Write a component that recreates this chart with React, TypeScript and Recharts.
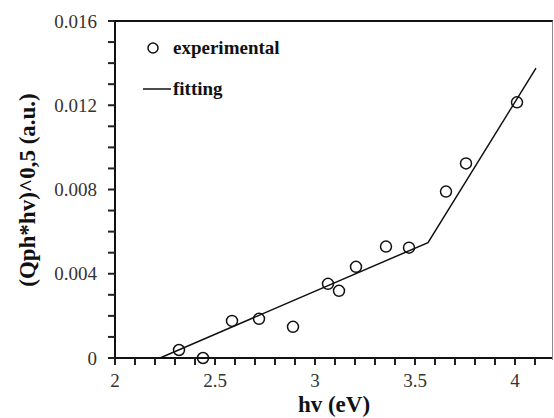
import {
  ComposedChart,
  Scatter,
  Line,
  XAxis,
  YAxis,
  Legend,
} from 'recharts';

const expX = [2.32, 2.44, 2.585, 2.72, 2.89, 3.065, 3.12, 3.205, 3.355, 3.47, 3.655, 3.755, 4.01];
const expY = [0.00038, 0.0, 0.00176, 0.00186, 0.00148, 0.00352, 0.00319, 0.00433, 0.00529, 0.00524, 0.0079, 0.00924, 0.01214];

const fitX = [2.225, 3.565, 4.105];
const fitY = [0.0, 0.00548, 0.01376];

const xTicks = [2.0, 2.1, 2.2, 2.3, 2.4, 2.5, 2.6, 2.7, 2.8, 2.9, 3.0, 3.1, 3.2, 3.3, 3.4, 3.5, 3.6, 3.7, 3.8, 3.9, 4.0, 4.1];
const xMajor = [2.0, 2.5, 3.0, 3.5, 4.0];
const yTicks = [0, 0.001, 0.002, 0.003, 0.004, 0.005, 0.006, 0.007, 0.008, 0.009, 0.01, 0.011, 0.012, 0.013, 0.014, 0.015, 0.016];
const yMajor = [0, 0.004, 0.008, 0.012, 0.016];

const experimental = expX.map((x, i) => ({ x, y: expY[i] }));
const fitting = fitX.map((x, i) => ({ x, y: fitY[i] }));

const FONT = 'Liberation Serif';
const INK = '#111';
// recharts defaults: tick props arrive 6 + 2 px away from the axis line
const OFFSET = 8;
const TICK_LEN = 7;

const XTick = (props: any) => {
  const { x, y, payload } = props;
  const axisY = y - OFFSET;
  return (
    <g>
      <rect x={x - 1} y={axisY} width={2} height={TICK_LEN} fill="#222" />
      {xMajor.includes(payload.value) && (
        <text x={x} y={axisY + 16} dy="0.71em" textAnchor="middle" style={{ fontFamily: FONT }} fontSize={19} fill="#333">
          {String(payload.value)}
        </text>
      )}
    </g>
  );
};

const YTick = (props: any) => {
  const { x, y, payload } = props;
  const axisX = x + OFFSET;
  const v = payload.value === 0 ? '0' : payload.value.toFixed(3);
  return (
    <g>
      <rect x={axisX - TICK_LEN} y={y - 1} width={TICK_LEN} height={2} fill="#222" />
      {yMajor.includes(payload.value) && (
        <text x={axisX - 18} y={y} dy="0.35em" textAnchor="end" style={{ fontFamily: FONT }} fontSize={19} fill="#333">
          {v}
        </text>
      )}
    </g>
  );
};

const OpenCircle = (props: any) => (
  <circle cx={props.cx} cy={props.cy} r={5.5} fill="none" stroke={INK} strokeWidth={1.5} />
);

const LegendBox = () => (
  <div style={{ fontFamily: FONT, fontWeight: 'bold', fontSize: 19, color: INK, lineHeight: '22px' }}>
    <div style={{ display: 'flex', alignItems: 'center', height: 22 }}>
      <svg width={32} height={22}>
        <circle cx={12} cy={11} r={5} fill="none" stroke={INK} strokeWidth={1.5} />
      </svg>
      <span>experimental</span>
    </div>
    <div style={{ display: 'flex', alignItems: 'center', height: 22, marginTop: 19 }}>
      <svg width={32} height={22}>
        <line x1={2} y1={11} x2={30} y2={11} stroke={INK} strokeWidth={1.5} />
      </svg>
      <span>fitting</span>
    </div>
  </div>
);

const titleStyle: any = {
  position: 'absolute',
  fontFamily: FONT,
  fontWeight: 'bold',
  fontSize: 23,
  color: INK,
  whiteSpace: 'nowrap',
  lineHeight: '22px',
};

export default function App() {
  return (
    <div style={{ position: 'absolute', left: 0, top: 0, width: 554, height: 418, background: '#fff' }}>
      <ComposedChart width={554} height={418} margin={{ top: 21, right: 1, bottom: 0, left: 0 }}>
        <XAxis
          dataKey="x"
          type="number"
          domain={[2, 4.19]}
          ticks={xTicks}
          interval={0}
          height={60}
          tick={XTick}
          tickLine={false}
          axisLine={{ stroke: INK, strokeWidth: 2 }}
        />
        <YAxis
          type="number"
          domain={[0, 0.016]}
          ticks={yTicks}
          interval={0}
          width={115}
          tick={YTick}
          tickLine={false}
          axisLine={{ stroke: INK, strokeWidth: 2 }}
        />
        <Legend
          layout="vertical"
          align="center"
          verticalAlign="middle"
          content={<LegendBox />}
          wrapperStyle={{ left: 141, top: 37, width: 200, height: 70 }}
        />
        <Line
          data={fitting}
          dataKey="y"
          type="linear"
          stroke={INK}
          strokeWidth={1.5}
          dot={false}
          isAnimationActive={false}
        />
        <Scatter data={experimental} dataKey="y" shape={OpenCircle} isAnimationActive={false} />
      </ComposedChart>
      {/* frame: top and right edges of the plot box */}
      <div
        style={{
          position: 'absolute',
          left: 115,
          top: 20,
          width: 437,
          height: 338,
          borderTop: `2px solid ${INK}`,
          borderRight: '1px solid #888',
          pointerEvents: 'none',
        }}
      />
      <div style={{ ...titleStyle, left: 0, width: 668, top: 394, textAlign: 'center' }}>hv (eV)</div>
      <div
        style={{
          ...titleStyle,
          left: 28,
          top: 190,
          transform: 'translate(-50%, -50%) rotate(-90deg)',
        }}
      >
        (Qph*hv)^0,5 (a.u.)
      </div>
    </div>
  );
}
